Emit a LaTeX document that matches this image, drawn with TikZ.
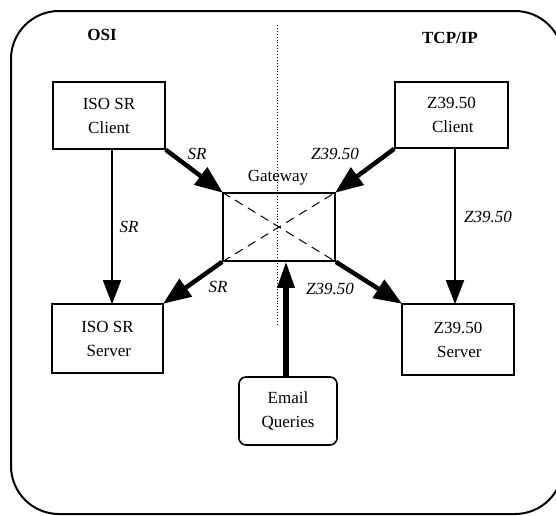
\documentclass[tikz,border=0pt]{standalone}
\usepackage{fontspec}
\setmainfont{Liberation Serif}
\usetikzlibrary{arrows.meta,calc}
\tikzset{
  box/.style={draw, line width=1.6pt, minimum width=#1, align=center, inner sep=0pt,
    font=\fontsize{17}{24}\selectfont},
  box/.default=112pt,
  lbl/.style={font=\fontsize{17}{20}\selectfont\itshape, inner sep=0pt},
  hdr/.style={font=\fontsize{17}{20}\selectfont\bfseries, inner sep=0pt},
  thinarrow/.style={line width=1.8pt, -{Triangle[length=24pt,width=18pt]}, shorten >=-1pt},
  thickarrow/.style={line width=4.5pt, -{Triangle[length=28pt,width=21pt]}, shorten >=-1pt},
  emailarrow/.style={line width=6pt, -{Triangle[length=27pt,width=16pt]}, shorten >=-1pt},
}
\begin{document}
\begin{tikzpicture}[x=1pt,y=-1pt]
\useasboundingbox (0,0) rectangle (556,515);
\clip (0,0) rectangle (556,515);
% outer frame
\draw[line width=2pt, rounded corners=48pt] (11,11) rectangle (563,514);
% dotted divider
\coordinate (dtop) at (277,25);
\coordinate (dbot) at (277,325);
\draw[line width=0.9pt, dotted] (dtop) -- (dbot);
% headers
\node[hdr] (osi) at (102,35) {OSI};
\node[hdr] (tcp) at (450,38) {TCP/IP};
% boxes
\node[box=112pt, minimum height=67pt] (isoc) at (109,115.5) {ISO SR\\Client};
\node[box=113pt, minimum height=66pt] (zc) at (451.5,115) {Z39.50\\ \,Client};
\node[box=111pt, minimum height=69pt] (isos) at (107.5,338.5) {ISO SR\\ \,Server};
\node[box=112pt, minimum height=71pt] (zs) at (458,339.5) {Z39.50\\ \,Server};
\node[draw, line width=1.6pt, minimum width=112pt, minimum height=68pt, inner sep=0pt] (gw) at (279,227) {};
\node[box=98pt, minimum height=68pt, rounded corners=7pt] (email) at (288,411) {Email\\Queries};
% gateway cross
\draw[line width=1pt, dash pattern=on 9pt off 6pt] (gw.north west) -- (gw.south east);
\draw[line width=1pt, dash pattern=on 9pt off 6pt] (gw.south west) -- (gw.north east);
\node[font=\fontsize{17}{20}\selectfont, inner sep=0pt] (gwl) at (278,178) {Gateway};
% arrows
\draw[thinarrow] ([xshift=3pt]isoc.south) -- ([xshift=3pt]isoc.south |- isos.north);
\draw[thinarrow] ([xshift=3.5pt]zc.south) -- ([xshift=3.5pt]zc.south |- zs.north);
\draw[thickarrow] (isoc.south east) -- (gw.north west);
\draw[thickarrow] (zc.south west) -- (gw.north east);
\draw[thickarrow] (gw.south west) -- (isos.north east);
\draw[thickarrow] (gw.south east) -- (zs.north west);
\draw[emailarrow] ([xshift=-2pt]email.north) -- ([xshift=-2pt]email.north |- gw.south);
% labels
\node[lbl] (l1) at (197,154) {SR};
\node[lbl] (l2) at (129,227) {SR};
\node[lbl] (l3) at (218,287) {SR};
\node[lbl] (l4) at (335,154) {Z39.50};
\node[lbl] (l5) at (488,217) {Z39.50};
\node[lbl] (l6) at (330,289) {Z39.50};
\end{tikzpicture}
\end{document}
